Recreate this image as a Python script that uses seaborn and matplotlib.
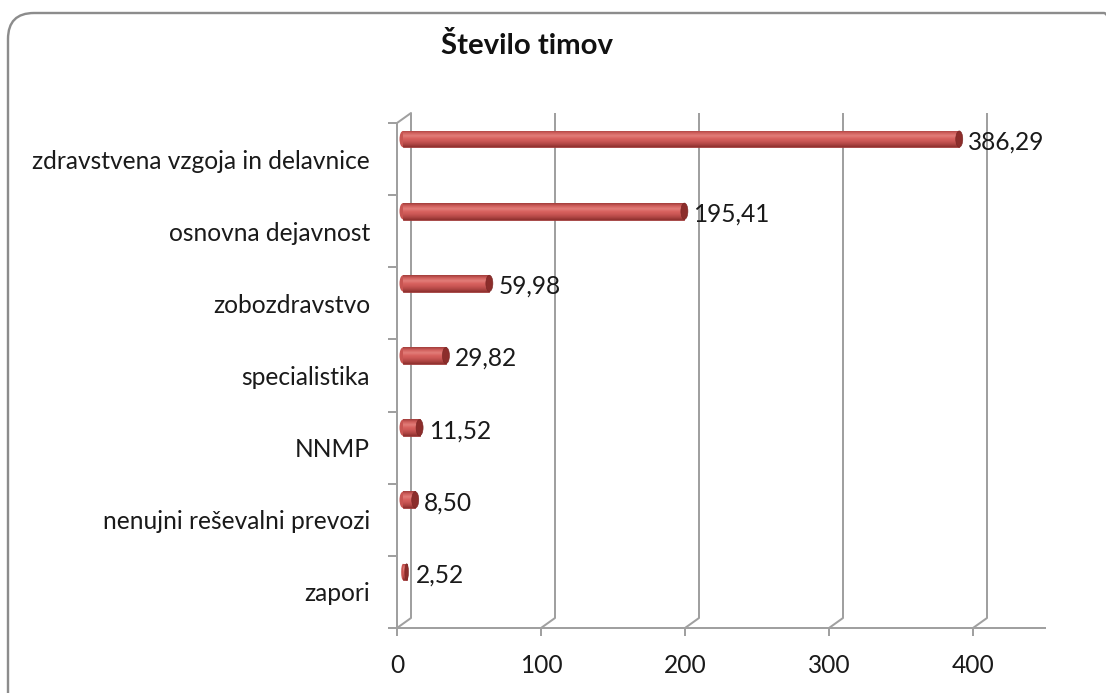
import matplotlib
matplotlib.use("Agg")
import matplotlib.pyplot as plt
import matplotlib.transforms as mtransforms
from matplotlib.patches import FancyBboxPatch, Ellipse
from matplotlib.colors import LinearSegmentedColormap
import seaborn as sns
import pandas as pd
import numpy as np

categories = ["zdravstvena vzgoja in delavnice", "osnovna dejavnost", "zobozdravstvo",
              "specialistika", "NNMP", "nenujni reševalni prevozi", "zapori"]
values = [386.29, 195.41, 59.98, 29.82, 11.52, 8.50, 2.52]
x_ticks = [0, 100, 200, 300, 400]
title = "Število timov"

sns.set_theme(style="white")
FONT = ["Lato", "DejaVu Sans"]
plt.rcParams["font.family"] = FONT

W, H, DPI = 1106, 693, 100
fig = plt.figure(figsize=(W / DPI, H / DPI), dpi=DPI)
renderer = fig.canvas.get_renderer()

def fit_size(s, target_px, weight="normal"):
    t = fig.text(0, 0, s, fontsize=10, fontweight=weight)
    w = t.get_window_extent(renderer).width
    t.remove()
    return 10 * target_px / w

fs = fit_size(categories[0], 338)
fs_title = fit_size(title, 173, "bold")

def px(v):
    return v * 72 / DPI  # pixels -> points

# outer rounded border (pixel coordinates, origin bottom-left)
border = FancyBboxPatch((8, -30), 1130 - 8, (H - 13) + 30,
                        boxstyle="round,pad=0,rounding_size=26",
                        transform=mtransforms.IdentityTransform(),
                        facecolor="none", edgecolor="#8c8c8c",
                        linewidth=px(2.4), zorder=-1)
fig.patches.append(border)

L, R, T, B = 397, 1045, 123, 628
ax = fig.add_axes([L / W, 1 - B / H, (R - L) / W, (B - T) / H])
ax.patch.set_alpha(0)

df = pd.DataFrame({"cat": categories, "val": values})
sns.barplot(data=df, x="val", y="cat", orient="h", order=categories,
            color="#cf5553", width=0.23, saturation=1, ax=ax,
            edgecolor="#9a3836", linewidth=px(0.8), zorder=3)

XMAX = 450
ax.set_xlim(0, XMAX)
ax.set_ylim(len(categories) - 0.5, -0.5)

bar_shift = mtransforms.ScaledTranslation(6 / DPI, 20 / DPI, fig.dpi_scale_trans)
cyl = LinearSegmentedColormap.from_list(
    "cyl", ["#a23d3b", "#d0605d", "#e27d79", "#d8625f", "#c95654", "#b04644", "#8e302e"])
grad = np.linspace(0, 1, 64).reshape(-1, 1)
px_per_unit = (R - L) / XMAX
bars = list(ax.patches)
for p in bars:
    p.set_transform(ax.transData + bar_shift)
    p.set_clip_on(False)
    x0, y0, w, h = p.get_x(), p.get_y(), p.get_width(), p.get_height()
    im = ax.imshow(grad, extent=[x0, x0 + w, y0 + h, y0], aspect="auto",
                   cmap=cyl, zorder=3.2, transform=ax.transData + bar_shift,
                   interpolation="bilinear")
    im.set_clip_path(p)
    im.set_clip_on(True)
    cap_w = min(7 / px_per_unit, w)
    cap = Ellipse((x0 + w, y0 + h / 2), cap_w, h * 0.98, facecolor="#8c2d2b",
                  edgecolor="#7a2624", linewidth=px(0.6),
                  transform=ax.transData + bar_shift, zorder=3.4, clip_on=False)
    ax.add_patch(cap)
    cap_l = Ellipse((x0, y0 + h / 2), cap_w, h * 0.98, facecolor="#c85552",
                    edgecolor="none", transform=ax.transData + bar_shift,
                    zorder=3.1, clip_on=False)
    ax.add_patch(cap_l)

ax.set_xlim(0, XMAX)
ax.set_ylim(len(categories) - 0.5, -0.5)

grid_col = "#a0a0a0"
lw = px(2.0)
blend = mtransforms.blended_transform_factory(ax.transData, ax.transAxes)
back = mtransforms.ScaledTranslation(14 / DPI, 10 / DPI, fig.dpi_scale_trans)
for v in x_ticks:
    ax.plot([v, v], [0, 1], transform=blend + back, color=grid_col, lw=lw,
            clip_on=False, zorder=1, solid_capstyle="butt")
    ax.annotate("", xy=(v, 0), xycoords=blend, xytext=(px(14), px(10)),
                textcoords="offset points",
                arrowprops=dict(arrowstyle="-", color=grid_col, lw=lw,
                                shrinkA=0, shrinkB=0), zorder=1)
# left wall top edge
ax.annotate("", xy=(0, 1), xycoords=blend, xytext=(px(14), px(10)),
            textcoords="offset points",
            arrowprops=dict(arrowstyle="-", color=grid_col, lw=lw,
                            shrinkA=0, shrinkB=0), zorder=1)

for side in ["top", "right"]:
    ax.spines[side].set_visible(False)
for side in ["left", "bottom"]:
    ax.spines[side].set_color(grid_col)
    ax.spines[side].set_linewidth(lw)

ax.set_xticks(x_ticks)
ax.set_xticklabels([str(t) for t in x_ticks])
ax.tick_params(axis="x", direction="out", length=px(8), width=lw, color=grid_col,
               pad=px(18), labelsize=fs, labelcolor="#1a1a1a", bottom=True)
ax.set_yticks(range(len(categories)))
ax.set_yticklabels(categories)
ax.set_yticks([i - 0.5 for i in range(len(categories) + 1)], minor=True)
ax.tick_params(axis="y", which="major", length=0, pad=px(27), labelsize=fs,
               labelcolor="#1a1a1a", left=True)
ax.tick_params(axis="y", which="minor", direction="out", length=px(9), width=lw,
               color=grid_col, left=True)
ax.set_xlabel("")
ax.set_ylabel("")

for i, v in enumerate(values):
    ax.annotate(f"{v:.2f}".replace(".", ","), xy=(v, i), xycoords="data",
                xytext=(px(15), px(17)), textcoords="offset points",
                ha="left", va="center", fontsize=fs, color="#1a1a1a",
                annotation_clip=False, zorder=5)

fig.text(527 / W, 1 - 45 / H, title, ha="center", va="center",
         fontsize=fs_title, fontweight="bold", color="#111111")

fig.savefig("out.png", dpi=DPI)
